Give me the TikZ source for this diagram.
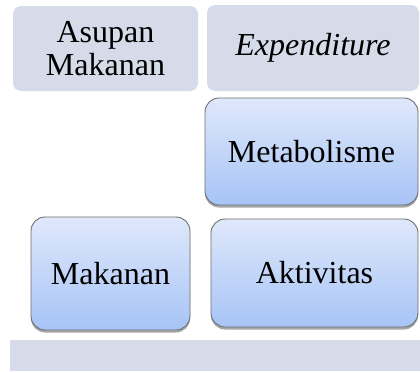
\documentclass[tikz,border=0pt]{standalone}
\usepackage{fontspec}
\setmainfont{Liberation Serif}
\usetikzlibrary{shadows}
\definecolor{graybox}{HTML}{D5DBE8}
\definecolor{bluetop}{HTML}{DFE8FB}
\definecolor{bluebot}{HTML}{A7C4F6}
\definecolor{edgegray}{HTML}{6E6E6E}
\tikzset{
  headbox/.style={rectangle, rounded corners=8pt, fill=graybox, inner sep=0pt,
    align=center, font=\fontsize{32}{33}\selectfont},
  bluebox/.style={rectangle, rounded corners=14pt, draw=edgegray, line width=0.9pt,
    top color=bluetop, bottom color=bluebot, inner sep=0pt, align=center,
    font=\fontsize{32}{33}\selectfont,
    drop shadow={shadow xshift=0pt, shadow yshift=-2.5pt, opacity=0.35, fill=black}},
  basebar/.style={rectangle, fill=graybox, inner sep=0pt}
}
\begin{document}
\begin{tikzpicture}[x=1pt,y=1pt]
\useasboundingbox (0,0) rectangle (420,-372);
\node[headbox, minimum width=185pt, minimum height=85pt] (asupan) at (105.5,-48.5) {Asupan\\Makanan};
\node[headbox, minimum width=212pt, minimum height=86pt] (expend) at (313,-48) {\textit{Expenditure}};
\node[bluebox, minimum width=213pt, minimum height=107pt] (metab) at (311.5,-151.5) {Metabolisme};
\node[bluebox, minimum width=159pt, minimum height=113pt] (makanan) at (110.5,-273.5) {Makanan};
\node[bluebox, minimum width=207pt, minimum height=108pt] (aktiv) at (314.5,-273) {Aktivitas};
\node[basebar, minimum width=410pt, minimum height=31pt] (bar) at (215,-355.5) {};
\end{tikzpicture}
\end{document}
